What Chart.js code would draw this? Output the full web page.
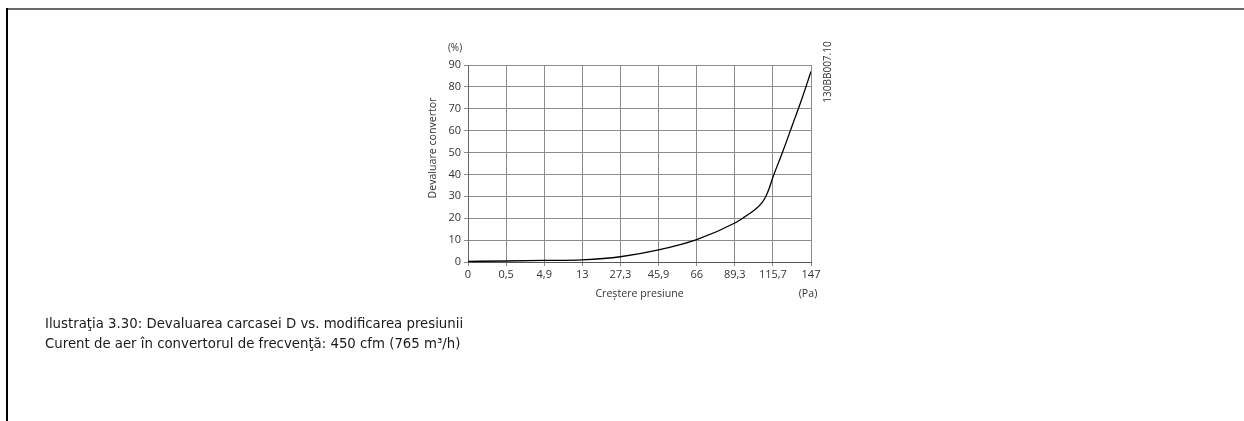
<!DOCTYPE html>
<html lang="ro">
<head>
<meta charset="utf-8">
<title>Devaluarea carcasei D vs. modificarea presiunii</title>
<script src="https://cdn.jsdelivr.net/npm/chart.js@4/dist/chart.umd.min.js"></script>
<style>
  html, body { margin: 0; padding: 0; background: #fff; }
  body { width: 1244px; height: 421px; position: relative; overflow: hidden; }
  #frameTop { position: absolute; left: 7px; top: 8px; width: 1237px; height: 2px; background: #6a6a6a; }
  #frameLeft { position: absolute; left: 6px; top: 8px; width: 2px; height: 413px; background: #000; }
  #wrap { position: absolute; left: 0; top: 0; width: 1244px; height: 421px; }
  .caption { position: absolute; left: 45px; font-family: "DejaVu Sans", Verdana, sans-serif; font-size: 13.3px; color: #1a1a1a; white-space: nowrap; }
</style>
</head>
<body>
<div id="frameTop"></div>
<div id="frameLeft"></div>
<div id="wrap"><canvas id="chart" width="1244" height="421"></canvas></div>
<div class="caption" style="top:316px">Ilustraţia 3.30: Devaluarea carcasei D vs. modificarea presiunii</div>
<div class="caption" style="top:336px">Curent de aer în convertorul de frecvenţă: 450 cfm (765 m³/h)</div>
<script>
// Pressure increase tick labels (Pa), evenly spaced along the x axis
const pressureLabels = ['0', '0,5', '4,9', '13', '27,3', '45,9', '66', '89,3', '115,7', '147'];
// Curve samples: position along the tick sequence and drive derating (%)
const curvePos = [0, 1, 2, 3, 4, 5, 6, 7, 7.25, 7.5, 7.7, 7.8, 7.9, 8, 8.25, 8.5, 8.75, 9];
const derating = [0.3, 0.45, 0.7, 1.0, 2.4, 5.5, 10.2, 17.8, 20.5, 23.5, 26.8, 29.5, 33.5, 38.7, 50, 62, 74, 87];
const yTicks = [0, 10, 20, 30, 40, 50, 60, 70, 80, 90];

const points = curvePos.map((x, i) => ({ x: x, y: derating[i] }));

const tickFont = { family: '"Open Sans", "Noto Sans", sans-serif', size: 11 };
const textColor = '#333';

// Axis titles, units and drawing reference
const annotations = {
  id: 'annotations',
  afterDraw(chart) {
    const { ctx, chartArea: a } = chart;
    ctx.save();
    ctx.fillStyle = textColor;
    ctx.textAlign = 'center';
    ctx.textBaseline = 'middle';
    ctx.font = '10px "Open Sans", "Noto Sans", sans-serif';
    ctx.fillText('(%)', a.left - 13, a.top - 17);
    ctx.save();
    ctx.translate(a.right + 17, a.top + 7);
    ctx.rotate(-Math.PI / 2);
    ctx.fillText('130BB007.10', 0, 0);
    ctx.restore();
    ctx.font = '10.6px "Open Sans", "Noto Sans", sans-serif';
    ctx.fillText('(Pa)', a.right - 3, a.bottom + 32);
    ctx.fillText('Creştere presiune', (a.left + a.right) / 2, a.bottom + 32);
    ctx.save();
    ctx.translate(a.left - 35, a.top + 83);
    ctx.rotate(-Math.PI / 2);
    ctx.fillText('Devaluare convertor', 0, 0);
    ctx.restore();
    ctx.restore();
  }
};

new Chart(document.getElementById('chart'), {
  type: 'scatter',
  data: {
    datasets: [{
      data: points,
      showLine: true,
      borderColor: '#000',
      borderWidth: 1.3,
      pointRadius: 0,
      cubicInterpolationMode: 'monotone',
      fill: false
    }]
  },
  options: {
    responsive: false,
    animation: false,
    events: [],
    layout: { padding: { left: 428, right: 433, top: 65, bottom: 119 } },
    plugins: { legend: { display: false }, tooltip: { enabled: false } },
    scales: {
      x: {
        type: 'linear',
        min: 0,
        max: pressureLabels.length - 1,
        afterBuildTicks(scale) {
          scale.ticks = pressureLabels.map((_, i) => ({ value: i }));
        },
        afterFit(scale) { scale.height = 40; },
        ticks: {
          callback: (v) => pressureLabels[v],
          font: tickFont,
          color: textColor,
          padding: 2,
          maxRotation: 0,
          autoSkip: false
        },
        grid: { color: '#8c8c8c', lineWidth: 1, tickLength: 4, drawTicks: true },
        border: { color: '#555', width: 1 }
      },
      y: {
        min: 0,
        max: 90,
        afterBuildTicks(scale) {
          scale.ticks = yTicks.map(v => ({ value: v }));
        },
        afterFit(scale) { scale.width = 40; },
        ticks: { font: tickFont, color: textColor, padding: 3 },
        grid: { color: '#8c8c8c', lineWidth: 1, tickLength: 4 },
        border: { color: '#666', width: 1 }
      }
    }
  },
  plugins: [annotations]
});
</script>
</body>
</html>
